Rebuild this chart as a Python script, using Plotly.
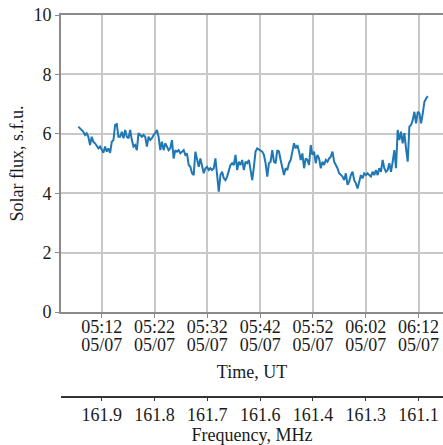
import plotly.graph_objects as go
import pandas as pd

# ---- data ----
start_time = "2023-05-07 05:07:34"
sample_seconds = 19
flux = [
    6.24, 6.18, 6.13, 6.07, 5.96, 6.02, 5.90, 5.62, 5.90, 5.73, 5.68, 5.57, 5.51, 5.57, 5.45, 5.36,
    5.57, 5.40, 5.51, 5.36, 5.73, 5.79, 6.30, 6.33, 5.90, 5.90, 6.07, 5.85, 6.13, 5.90, 5.85, 6.13,
    5.79, 5.57, 5.62, 5.45, 6.02, 5.96, 5.90, 5.96, 5.90, 5.57, 5.90, 5.79, 5.85, 5.96, 6.02, 6.13,
    5.90, 5.45, 5.73, 5.45, 5.68, 5.57, 5.45, 5.51, 5.79, 5.17, 5.45, 5.40, 5.45, 5.34, 5.40, 5.45,
    5.29, 5.34, 4.95, 4.89, 4.67, 4.61, 5.40, 5.17, 4.89, 5.17, 4.95, 4.67, 4.84, 4.89, 4.78, 4.84,
    4.78, 4.84, 5.17, 4.61, 4.05, 4.61, 4.72, 4.50, 4.44, 4.56, 4.72, 4.95, 5.01, 4.95, 5.29, 4.78,
    5.06, 4.95, 5.12, 4.78, 5.06, 5.01, 5.12, 4.72,
    4.44, 4.89, 5.40, 5.51, 5.48, 5.45, 5.40, 5.29, 5.01, 4.56, 5.01, 5.06, 5.45, 5.06, 5.01, 5.45,
    5.40, 5.12, 4.84, 4.61, 4.84, 4.78, 5.01, 5.12, 5.40, 5.68, 5.51, 5.62, 5.40, 5.12, 5.34, 4.84,
    5.17, 5.12, 4.95, 5.62, 5.29, 5.40, 5.01, 5.29, 5.17, 4.84, 5.06, 4.95, 5.12, 5.06, 5.17, 5.23,
    5.40, 5.06, 4.95, 4.84, 4.67, 4.61, 4.56, 4.44, 4.67, 4.28, 4.39, 4.61, 4.72, 4.44, 4.33, 4.16,
    4.44, 4.61, 4.50, 4.67, 4.61, 4.67, 4.61, 4.56, 4.72, 4.61, 4.78, 4.61, 4.84, 4.72, 5.12, 4.84,
    4.72, 4.78, 5.01, 4.72, 5.06, 5.45, 4.84, 6.13, 5.79, 6.07, 5.68, 6.02, 5.51, 5.06, 6.24, 6.30,
    6.46, 6.74, 6.35, 6.74, 6.69, 6.35, 6.69, 7.08, 7.19, 7.27,
]
tick_times = ["2023-05-07 05:12", "2023-05-07 05:22", "2023-05-07 05:32", "2023-05-07 05:42",
              "2023-05-07 05:52", "2023-05-07 06:02", "2023-05-07 06:12"]
time_labels = ["05:12", "05:22", "05:32", "05:42", "05:52", "06:02", "06:12"]
date_labels = ["05/07"] * 7
freq_labels = ["161.9", "161.8", "161.7", "161.6", "161.4", "161.3", "161.1"]
y_ticks = [0, 2, 4, 6, 8, 10]
x_range = ["2023-05-07 05:04:17", "2023-05-07 06:16:38"]

times = pd.date_range(start=start_time, periods=len(flux), freq=f"{sample_seconds}s")

FONT = dict(family="Liberation Serif", size=18, color="#1a1a1a")
AXIS_COL = "#8a8a8a"
GRID_COL = "#c8c8c8"

fig = go.Figure()
fig.add_trace(go.Scatter(x=times, y=flux, mode="lines",
                         line=dict(color="#1f77b4", width=2), showlegend=False))
# invisible traces to activate overlay axes
fig.add_trace(go.Scatter(x=[times[0]], y=[None], xaxis="x2", yaxis="y", showlegend=False, hoverinfo="skip"))
fig.add_trace(go.Scatter(x=[times[0]], y=[None], xaxis="x3", yaxis="y", showlegend=False, hoverinfo="skip"))

fig.update_layout(
    width=443, height=445,
    margin=dict(l=61, r=0, t=15, b=48, autoexpand=False),
    paper_bgcolor="white", plot_bgcolor="white",
    font=FONT,
    yaxis=dict(domain=[0.2225, 1], range=[0, 10], tickvals=y_ticks, automargin=False,
               showgrid=True, gridcolor=GRID_COL, gridwidth=1.5,
               showline=True, linecolor=AXIS_COL, linewidth=2, mirror=False,
               ticks="outside", ticklen=4, tickcolor=AXIS_COL, zeroline=False,
               title=dict(text="Solar flux, s.f.u.", font=FONT, standoff=5)),
    xaxis=dict(type="date", range=x_range, tickvals=tick_times, ticktext=time_labels,
               automargin=False,
               showgrid=True, gridcolor=GRID_COL, gridwidth=1.5,
               showline=True, linecolor=AXIS_COL, linewidth=2, mirror=True,
               ticks="outside", ticklen=4, tickcolor=AXIS_COL, zeroline=False,
               ticklabelstandoff=-7, anchor="y"),
    xaxis3=dict(type="date", range=x_range, tickvals=tick_times, ticktext=date_labels,
                overlaying="x", anchor="y", side="bottom", showgrid=False, automargin=False,
                showline=False, ticks="", ticklabelstandoff=20,
                title=dict(text="Time, UT", font=FONT, standoff=11)),
    xaxis2=dict(type="date", range=x_range, tickvals=tick_times, ticktext=freq_labels,
                overlaying="x", anchor="free", position=0, side="bottom", automargin=False,
                showgrid=False, showline=True, linecolor="#333333", linewidth=1.5,
                ticks="outside", ticklen=3, tickcolor="#333333", ticklabelstandoff=-1,
                title=dict(text="Frequency, MHz", font=FONT, standoff=4)),
)

fig.write_html(
    "out.html",
    config={"displayModeBar": False},
    post_script="document.body.style.margin='0';document.body.style.padding='0';document.body.style.overflow='hidden';",
)
